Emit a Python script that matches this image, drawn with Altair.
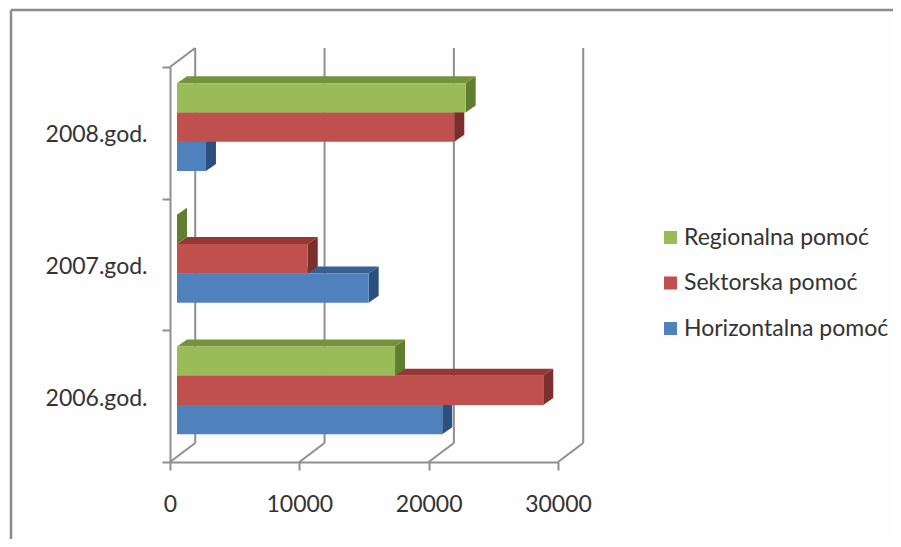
import altair as alt
import pandas as pd

years = ["2008.god.", "2007.god.", "2006.god."]
series = ["Regionalna pomoć", "Sektorska pomoć", "Horizontalna pomoć"]
regionalna = [22320, 0, 16860]
sektorska = [21440, 10110, 28320]
horizontalna = [2240, 14820, 20510]
front_colors = ["#9BBB59", "#C0504D", "#4F81BD"]
top_colors = ["#76923C", "#953735", "#376092"]
side_colors = ["#617D30", "#7B2E2C", "#2B5080"]
axis_ticks = [0, 10000, 20000, 30000]

# projection of the 3-D look, expressed in the units of the two scales
X_MAX, Y_MAX = 30000, 3
BAR_START = 541
BAR_DX, BAR_DY = 773, 0.053
WALL_DX, WALL_DY = 1950, 0.144
GROUP_GAP, BAR_H = 0.21, 0.2225
GREY = "#8F8F8F"
FONT = "Lato"
TEXT = "#333333"
FS = 23
PX_W, PX_H = 388, 395

values = dict(zip(series, [regionalna, sektorska, horizontalna]))
x_s = alt.Scale(domain=[0, X_MAX], nice=False, zero=False)
y_s = alt.Scale(domain=[0, Y_MAX], nice=False, zero=False)

rows = []
for s_i, s in enumerate(series):
    for y_i, year in enumerate(years):
        base = 2 - y_i + GROUP_GAP + (2 - s_i) * BAR_H
        rows.append(dict(series=s, year=year, x0=BAR_START, x1=BAR_START + values[s][y_i],
                         y0=base, y1=base + BAR_H))
bars = pd.DataFrame(rows)

X = alt.X("x:Q", scale=x_s, title=None,
          axis=alt.Axis(values=axis_ticks, format="d", grid=False, domainColor=GREY, domainWidth=2,
                        tickColor=GREY, tickWidth=2, tickSize=8, labelPadding=23, labelFont=FONT,
                        labelFontSize=FS, labelColor=TEXT, labelFlush=False))
Y = alt.Y("y:Q", scale=y_s, axis=None)

# walls
walls = []
for t in axis_ticks:
    walls.append(dict(g=f"b{t}", x=t + WALL_DX, y=WALL_DY))
    walls.append(dict(g=f"b{t}", x=t + WALL_DX, y=Y_MAX + WALL_DY))
    walls.append(dict(g=f"f{t}", x=t, y=0))
    walls.append(dict(g=f"f{t}", x=t + WALL_DX, y=WALL_DY))
walls.append(dict(g="top", x=0, y=Y_MAX))
walls.append(dict(g="top", x=WALL_DX, y=Y_MAX + WALL_DY))
wall_layer = alt.Chart(pd.DataFrame(walls)).mark_line(color=GREY, strokeWidth=2, clip=False).encode(
    x=X, y=Y, detail="g:N", order="y:Q")

layers = [wall_layer]
for s in reversed(series):
    i = series.index(s)
    d = bars[bars.series == s]
    top = []
    side = []
    for _, r in d.iterrows():
        top.append(dict(year=r.year, y=r.y1, xa=r.x0, xb=r.x1))
        top.append(dict(year=r.year, y=r.y1 + BAR_DY, xa=r.x0 + BAR_DX, xb=r.x1 + BAR_DX))
        side.append(dict(year=r.year, x=r.x1, ya=r.y0, yb=r.y1))
        side.append(dict(year=r.year, x=r.x1 + BAR_DX, ya=r.y0 + BAR_DY, yb=r.y1 + BAR_DY))
    layers.append(alt.Chart(pd.DataFrame(top)).mark_area(orient="horizontal", color=top_colors[i]).encode(
        x=alt.X("xa:Q", scale=x_s, title=None), x2="xb:Q", y=Y, detail="year:N"))
    layers.append(alt.Chart(pd.DataFrame(side)).mark_area(orient="vertical", color=side_colors[i]).encode(
        x=alt.X("x:Q", scale=x_s, title=None), y=alt.Y("ya:Q", scale=y_s, axis=None), y2="yb:Q", detail="year:N"))
    layers.append(alt.Chart(d).mark_rect().encode(
        x=alt.X("x0:Q", scale=x_s, title=None), x2="x1:Q",
        y=alt.Y("y0:Q", scale=y_s, axis=None), y2="y1:Q",
        color=alt.Color("series:N", scale=alt.Scale(domain=series, range=front_colors),
                        legend=alt.Legend(title=None, orient="none", legendX=489, legendY=159,
                                          symbolType="square", symbolSize=169, symbolStrokeWidth=0,
                                          symbolOpacity=1, labelFont=FONT, labelFontSize=FS,
                                          labelColor=TEXT, rowPadding=21.5, labelOffset=2,
                                          labelLimit=300))))

# picture frame (top and left edge only)
frame_top = alt.Chart(pd.DataFrame({"a": [0]})).mark_rule(color="#8C8C8C", strokeWidth=2.5).encode(
    x=alt.value(-159), x2=alt.value(731), y=alt.value(-57))
frame_left = alt.Chart(pd.DataFrame({"a": [0]})).mark_rule(color="#8C8C8C", strokeWidth=2.5).encode(
    x=alt.value(-159), y=alt.value(-57), y2=alt.value(480))

quant = alt.layer(frame_top, frame_left, *layers)

cat_axis = alt.Chart(pd.DataFrame({"year": years})).mark_point(opacity=0).encode(
    x=alt.value(0),
    y=alt.Y("year:N", sort=years, title=None,
            scale=alt.Scale(paddingInner=0, paddingOuter=0),
            axis=alt.Axis(orient="left", tickBand="extent", domainColor=GREY, domainWidth=2,
                          tickColor=GREY, tickWidth=2, tickSize=8, labelPadding=15, labelFont=FONT,
                          labelFontSize=FS, labelColor=TEXT, labelAngle=0, labelOffset=2)))

chart = alt.layer(quant, cat_axis).resolve_scale(y="independent", color="independent").properties(
    width=PX_W, height=PX_H,
    padding={"left": 162, "top": 59, "right": 335, "bottom": 77},
    autosize=alt.AutoSizeParams(type="none"),
    background="#FEFEFE",
).configure_view(stroke=None)

chart.save("out.html", embed_options={"renderer": "svg", "actions": False})
